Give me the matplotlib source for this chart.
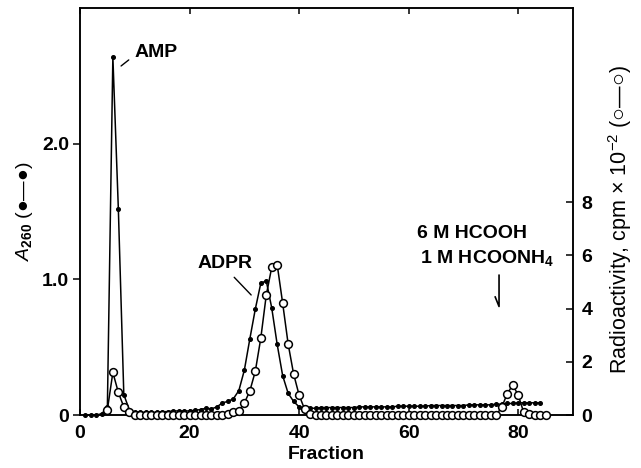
import matplotlib
matplotlib.use("Agg")
import matplotlib.pyplot as plt

plt.rcParams["font.family"] = ["Liberation Sans", "DejaVu Sans"]
plt.rcParams["mathtext.fontset"] = "custom"
plt.rcParams["mathtext.rm"] = "Liberation Sans"
plt.rcParams["mathtext.it"] = "Liberation Sans:italic"
plt.rcParams["mathtext.bf"] = "Liberation Sans:bold"

# A260 (filled circles), fractions 1-84
a260_frac = list(range(1, 85))
a260 = [
    0.00, 0.00, 0.00, 0.01, 0.06, 2.64, 1.52, 0.15, 0.04, 0.02,
    0.02, 0.02, 0.02, 0.02, 0.025, 0.025, 0.03, 0.03, 0.03, 0.03,
    0.035, 0.04, 0.05, 0.045, 0.06, 0.09, 0.10, 0.12, 0.18, 0.33,
    0.56, 0.78, 0.97, 0.99, 0.79, 0.52, 0.29, 0.16, 0.10, 0.06,
    0.05, 0.05, 0.05, 0.055, 0.055, 0.055, 0.055, 0.055, 0.055, 0.055,
    0.06, 0.06, 0.06, 0.06, 0.06, 0.06, 0.06, 0.065, 0.065, 0.065,
    0.065, 0.065, 0.065, 0.07, 0.07, 0.07, 0.07, 0.07, 0.07, 0.07,
    0.075, 0.075, 0.075, 0.075, 0.075, 0.08, 0.08, 0.085, 0.085, 0.09,
    0.09, 0.09, 0.09, 0.09,
]

# radioactivity, cpm x 10^-2 (open circles), fractions 5-85
cpm_frac = list(range(5, 86))
cpm = [
    0.20, 1.60, 0.85, 0.30, 0.10, 0.00, 0.00, 0.00, 0.00, 0.00,
    0.00, 0.00, 0.00, 0.00, 0.00, 0.00, 0.00, 0.00, 0.00, 0.00,
    0.00, 0.00, 0.05, 0.10, 0.16, 0.45, 0.90, 1.64, 2.88, 4.50,
    5.55, 5.65, 4.20, 2.67, 1.54, 0.75, 0.22, 0.05, 0.00, 0.00,
    0.00, 0.00, 0.00, 0.00, 0.00, 0.00, 0.00, 0.00, 0.00, 0.00,
    0.00, 0.00, 0.00, 0.00, 0.00, 0.00, 0.00, 0.00, 0.00, 0.00,
    0.00, 0.00, 0.00, 0.00, 0.00, 0.00, 0.00, 0.00, 0.00, 0.00,
    0.00, 0.00, 0.30, 0.80, 1.13, 0.75, 0.10, 0.02, 0.00, 0.00,
    0.00,
]

x_ticks = [0, 20, 40, 60, 80]
left_ticks = [0, 1.0, 2.0]
left_labels = ["0", "1.0", "2.0"]
right_ticks = [0, 2, 4, 6, 8]

fig = plt.figure(figsize=(6.41, 4.68), dpi=100)
ax = fig.add_axes([0.1248, 0.1132, 0.7691, 0.8697])
ax2 = ax.twinx()

ax.plot(a260_frac, a260, "-", color="black", lw=1.1, marker="o", ms=2.6,
        mfc="black", mec="black", clip_on=False, zorder=3)
ax2.plot(cpm_frac, cpm, "-", color="black", lw=1.1, marker="o", ms=5.6,
         mfc="white", mec="black", mew=1.1, clip_on=False, zorder=3)

ax.set_xlim(0, 90)
ax.set_ylim(0, 3.0)
ax2.set_ylim(0, 15.3)

for a in (ax, ax2):
    for s in a.spines.values():
        s.set_linewidth(1.1)

ax.set_xticks(x_ticks)
ax.set_yticks(left_ticks)
ax.set_yticklabels(left_labels)
ax2.set_yticks(right_ticks)

ax.tick_params(axis="x", direction="in", top=True, length=4, width=1.1, pad=7,
               labelsize=14)
ax.tick_params(axis="y", direction="out", length=5, width=1.1, pad=3,
               labelsize=14)
ax2.tick_params(axis="y", direction="in", length=5, width=1.1, pad=6,
                labelsize=14)
for lab in ax.get_xticklabels() + ax.get_yticklabels() + ax2.get_yticklabels():
    lab.set_fontweight("bold")

ax.set_xlabel("Fraction", fontsize=14, fontweight="bold", labelpad=3)
ax.set_ylabel(r"$\it{A}_{\mathbf{260}}$ (●—●)", fontsize=14, labelpad=5)
ax2.set_ylabel(r"Radioactivity, cpm × 10$^{-2}$ (○—○)", fontsize=15.5)
ax2.yaxis.set_label_coords(1.068, 0.48)

ax.text(10.0, 2.67, "AMP", fontsize=14, fontweight="bold", va="center")
ax.annotate("", xy=(7.1, 2.56), xytext=(9.3, 2.63),
            arrowprops=dict(arrowstyle="-", color="black", lw=1.0))

ax.text(21.4, 1.12, "ADPR", fontsize=14, fontweight="bold", va="center")
ax.annotate("", xy=(31.6, 0.87), xytext=(27.8, 1.03),
            arrowprops=dict(arrowstyle="-", color="black", lw=1.0))

ax.text(61.6, 1.34, "6 M HCOOH", fontsize=14, fontweight="bold", va="center")
ax.text(62.1, 1.16, r"1 M HCOONH$_\mathbf{4}$", fontsize=14, fontweight="bold",
        va="center")
ax.plot([76.5, 76.5, 75.8], [1.03, 0.80, 0.87], color="black", lw=1.2)

fig.savefig("out.png", dpi=100)
